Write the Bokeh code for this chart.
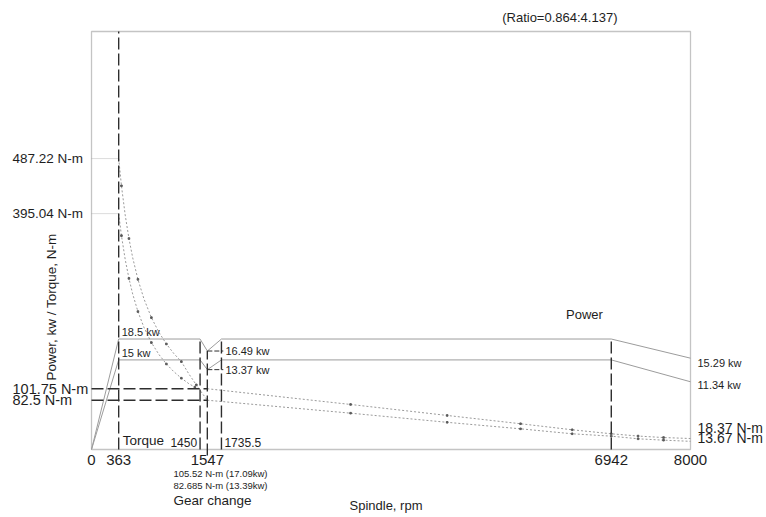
import math
from bokeh.plotting import figure
from bokeh.models import Range1d
from bokeh.embed import file_html
from bokeh.resources import INLINE
from bokeh.core.properties import value

# ---------------- data ----------------
rpm_ticks = [0, 363, 1547, 6942, 8000]
rpm_tick_labels = ["0", "363", "1547", "6942", "8000"]
inner_rpm_ticks = [1450, 1735.5]
inner_rpm_labels = ["1450", "1735.5"]

torque_ticks_top = [487.22, 395.04]
torque_labels_top = ["487.22 N-m", "395.04 N-m"]
torque_ticks_low = [101.75, 82.5]
torque_labels_low = ["101.75 N-m", "82.5 N-m"]

# power curves (kW)
power_rpm = [0, 363, 1450, 1547, 1735.5, 6942, 8000]
power_hi = [0, 18.5, 18.5, 16.49, 18.5, 18.5, 15.29]
power_lo = [0, 15, 15, 13.37, 15, 15, 11.34]

# torque curves below gear change (N-m)
tq1_rpm = [363, 400, 450, 500, 550, 620, 700, 800, 900, 1000, 1100, 1200, 1300, 1400, 1480, 1547]
tq1 = [487.22, 441.6, 392.6, 353.3, 321.2, 284.9, 252.4, 220.8, 196.3, 176.7, 160.6, 147.2,
       126.6, 108.2, 93.8, 82.7]
tq2_rpm = [363, 400, 450, 500, 550, 620, 700, 800, 900, 1000, 1100, 1200, 1300, 1380, 1450]
tq2 = [395.04, 358.1, 318.3, 286.5, 260.4, 231.0, 204.6, 179.0, 159.2, 143.2, 130.2, 119.4,
       110.2, 104.5, 101.75]

# torque curves above gear change (N-m)
tqh_rpm = [1547, 3460, 4750, 5730, 6420, 6942, 7300, 7640, 8000]
tq_hi = [101.75, 75.4, 57.0, 43.1, 33.0, 26.3, 22.5, 20.0, 18.37]
tq_lo = [82.5, 60.8, 45.5, 34.6, 26.3, 22.3, 17.9, 15.6, 13.67]

# right-hand end labels
end_kw_vals = [15.29, 11.34]
end_kw_labels = ["15.29 kw", "11.34 kw"]
end_nm_vals = [18.37, 13.67]
end_nm_labels = ["18.37 N-m", "13.67 N-m"]

gear_notes = ["105.52 N-m (17.09kw)", "82.685 N-m (13.39kw)"]

RPM_MAX = 8000
TQ_MAX = 700
KW_PER_NM = 0.1   # power axis is torque axis / 10

FONT = value("Liberation Sans")
TXT = "#1e1e1e"

X0, X1 = -1215.4, 9015.0
Y0, Y1 = -113.9, 751.9

p = figure(width=766, height=517, output_backend="svg", toolbar_location=None,
           x_axis_type=None, y_axis_type=None, min_border=0,
           x_range=Range1d(X0, X1), y_range=Range1d(Y0, Y1))
p.extra_y_ranges = {"kw": Range1d(Y0 * KW_PER_NM, Y1 * KW_PER_NM)}
p.outline_line_color = None
p.background_fill_color = "white"
p.border_fill_color = "white"

# frame
p.line([0, RPM_MAX, RPM_MAX, 0, 0], [0, 0, TQ_MAX, TQ_MAX, 0],
       line_color="#c4c4c4", line_width=1.3)

# thin dotted guides to torque labels
p.segment(x0=[0, 0], y0=torque_ticks_top, x1=[363, 363], y1=torque_ticks_top,
          line_color="#a8a8a8", line_width=0.8, line_dash="1 1")

# power curves
p.line(power_rpm, power_hi, y_range_name="kw", line_color="#9c9c9c", line_width=1)
p.line(power_rpm, power_lo, y_range_name="kw", line_color="#9c9c9c", line_width=1)

# torque curves (dotted with small vertex dots)
for xs, ys in [(tq1_rpm, tq1), (tq2_rpm, tq2), (tqh_rpm, tq_hi), (tqh_rpm, tq_lo)]:
    p.line(xs, ys, line_color="#8e8e8e", line_width=0.9, line_dash="2 2")
    p.scatter(xs[1:-1:2] if len(xs) > 10 else xs[1:-1],
              ys[1:-1:2] if len(ys) > 10 else ys[1:-1],
              marker="square", size=1.6, color="#5a5a5a")

# dashed construction lines
kw_hi_nm = power_hi[1] / KW_PER_NM
p.segment(x0=[363, 1450, 1547, 1735.5, 6942],
          y0=[0, 0, -10, 0, 0],
          x1=[363, 1450, 1547, 1735.5, 6942],
          y1=[TQ_MAX, kw_hi_nm, power_hi[3] / KW_PER_NM, kw_hi_nm, kw_hi_nm],
          line_color="#2e2e2e", line_width=1.4, line_dash="12 4")
p.segment(x0=[0, 0], y0=torque_ticks_low, x1=[1547, 1547], y1=torque_ticks_low,
          line_color="#2e2e2e", line_width=1.4, line_dash="12 4")

# gear-change markers at reduced power
p.segment(x0=[1547, 1547], y0=[power_hi[3], power_lo[3]],
          x1=[1760, 1760], y1=[power_hi[3], power_lo[3]],
          y_range_name="kw", line_color="#2e2e2e", line_width=1, line_dash="5 2")

# ---------------- texts ----------------
def txt(x, y, t, size, align="left", baseline="middle", xo=0, yo=0, angle=0, rng="default"):
    kw = {}
    if rng != "default":
        kw["y_range_name"] = rng
    p.text(x=x, y=y, text=t, text_font=FONT, text_font_size=value(size),
           text_color=TXT, text_align=align, text_baseline=baseline,
           x_offset=xo, y_offset=yo, angle=angle, **kw)

txt([5485], [723.4], ["(Ratio=0.864:4.137)"], "13px")

txt([-1055] * 2, torque_ticks_top, torque_labels_top, "13.5px")
txt([-1055] * 2, torque_ticks_low, torque_labels_low, "14.5px")

txt(rpm_ticks, [-10] * 5, rpm_tick_labels, "15px", align="center", baseline="top")
txt([inner_rpm_ticks[0]], [11], [inner_rpm_labels[0]], "12px", align="right", xo=-3)
txt([inner_rpm_ticks[1]], [11], [inner_rpm_labels[1]], "12px", align="left", xo=3)

txt([363], [15], ["Torque"], "13.5px", xo=4)
txt([6584], [226], ["Power"], "13px", align="center")

txt([363, 363], [power_hi[1], power_lo[1]], ["18.5 kw", "15 kw"], "11px",
    baseline="bottom", xo=3, yo=-1, rng="kw")
txt([1735.5, 1735.5], [power_hi[3], power_lo[3]], ["16.49 kw", "13.37 kw"], "11px",
    xo=4, rng="kw")

txt([RPM_MAX], [end_kw_vals[0]], [end_kw_labels[0]], "11px", xo=7, yo=5, rng="kw")
txt([RPM_MAX], [end_kw_vals[1]], [end_kw_labels[1]], "11px", xo=7, yo=3, rng="kw")
txt([RPM_MAX], [end_nm_vals[0]], [end_nm_labels[0]], "14px", xo=7, yo=-11)
txt([RPM_MAX], [end_nm_vals[1]], [end_nm_labels[1]], "14px", xo=7, yo=-3)

txt([1095, 1095], [-41, -59.5], gear_notes, "9.5px")
txt([1095], [-85.4], ["Gear change"], "13.5px")
txt([3933], [-93.8], ["Spindle, rpm"], "13px", align="center")

txt([-534], [115.6], ["Power, kw / Torque, N-m"], "13.5px", angle=math.pi / 2)

open("out.html", "w").write(file_html(p, INLINE))
